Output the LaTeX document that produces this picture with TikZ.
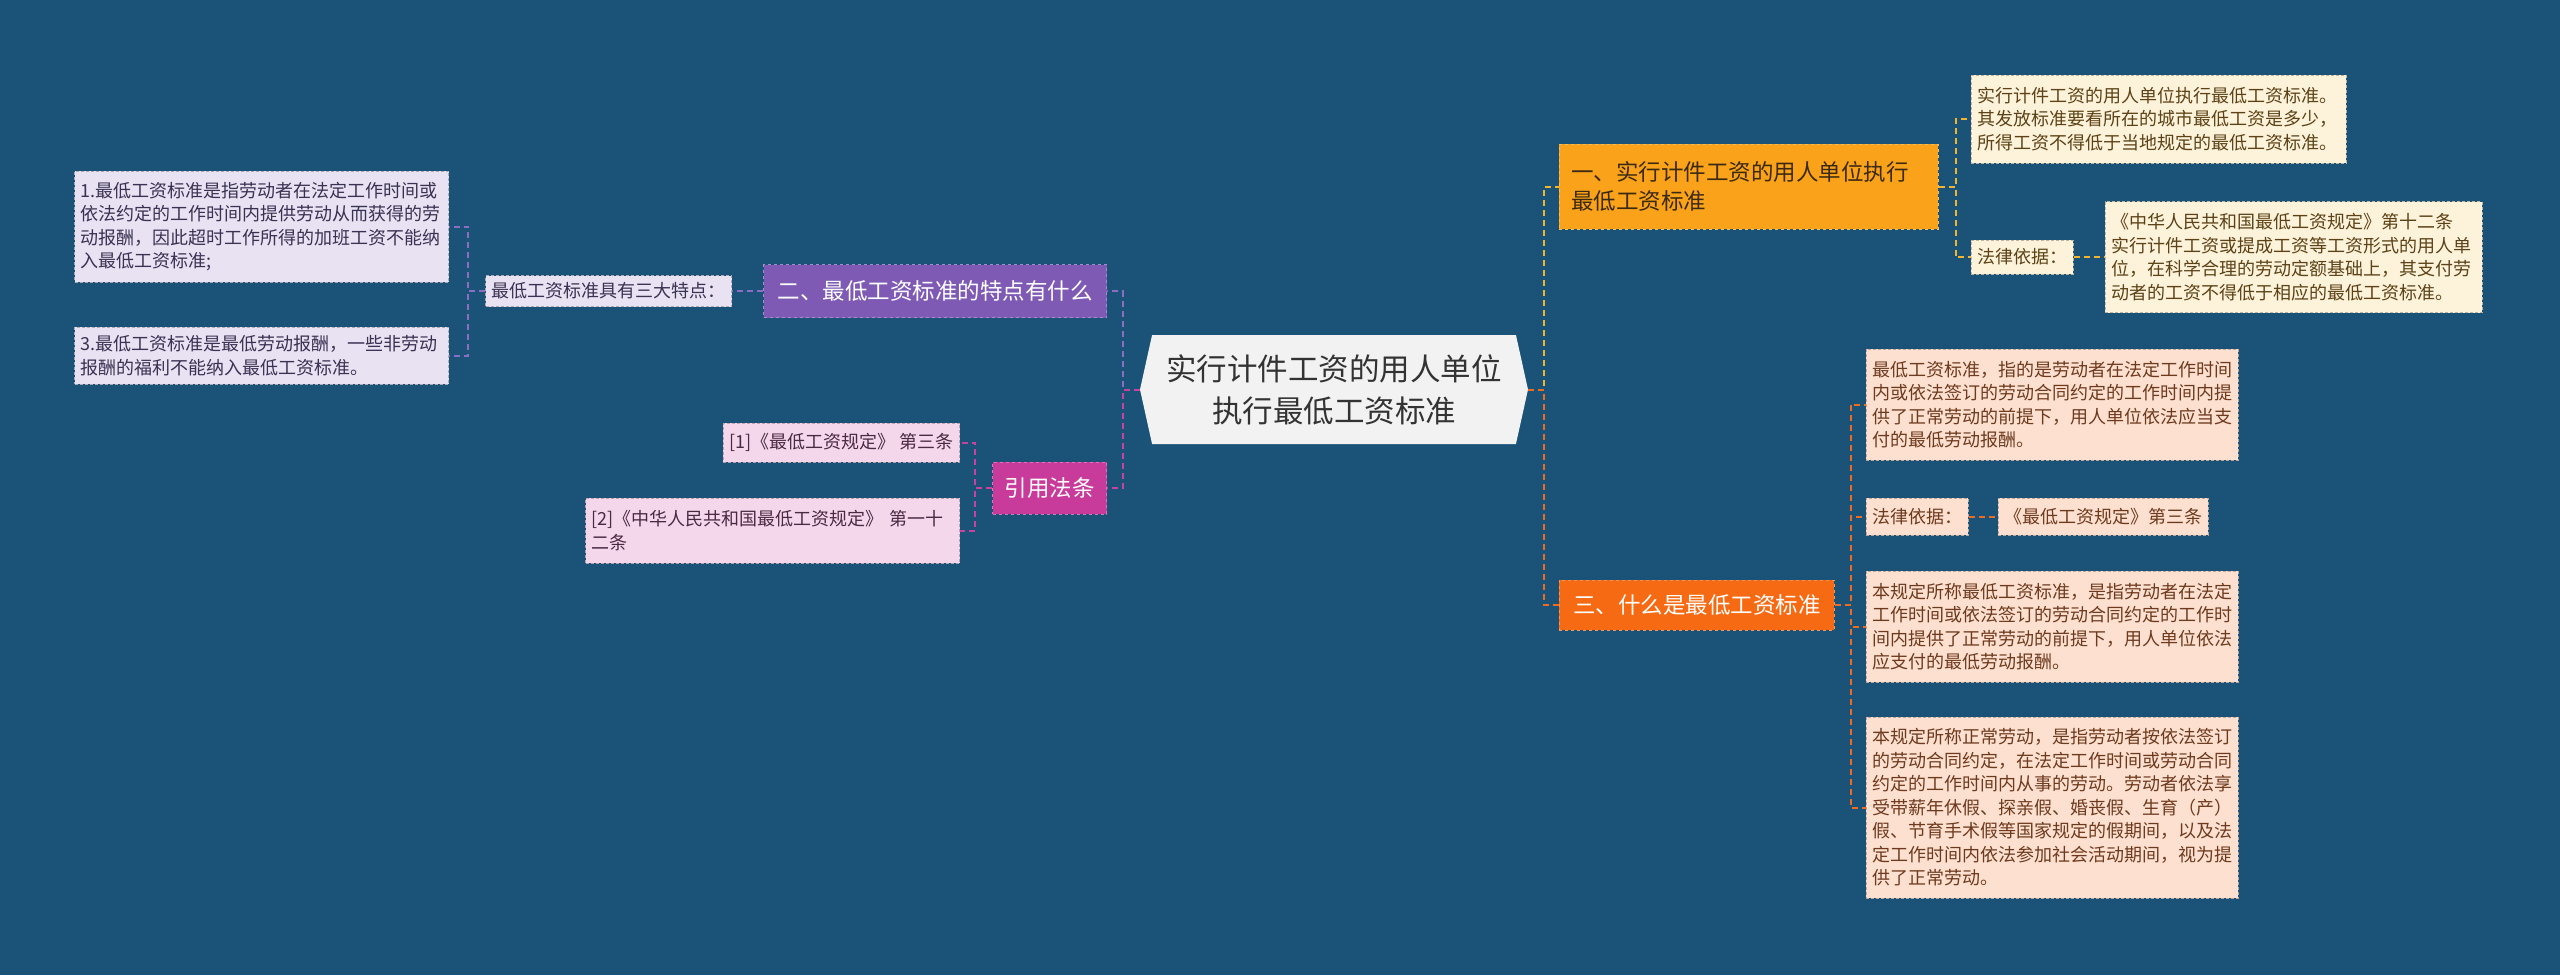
\documentclass[tikz,border=0pt]{standalone}
\usepackage{fontspec}
\setmainfont{Noto Sans CJK SC}
\usepackage{xcolor}
\usetikzlibrary{positioning, shapes.symbols}
\definecolor{MBack}{HTML}{1B5378}
\definecolor{MRoot}{HTML}{F2F2F2}
\definecolor{MInk}{HTML}{333333}
\definecolor{MAmber}{HTML}{FAA21A}
\definecolor{MAmberLine}{HTML}{F2B531}
\definecolor{MAmberInk}{HTML}{3B2A12}
\definecolor{MOrange}{HTML}{F56A12}
\definecolor{MOrangeLine}{HTML}{EE6B22}
\definecolor{MPurple}{HTML}{7E5AB4}
\definecolor{MPurpleLine}{HTML}{8C6DC4}
\definecolor{MPink}{HTML}{C93B9B}
\definecolor{MPinkLine}{HTML}{C8429F}
\definecolor{MCream}{HTML}{FDF2DA}
\definecolor{MCreamInk}{HTML}{5C4216}
\definecolor{MPeach}{HTML}{FDE0D0}
\definecolor{MPeachInk}{HTML}{6E3A1E}
\definecolor{MLavender}{HTML}{E8E2F2}
\definecolor{MLavenderInk}{HTML}{3A3252}
\definecolor{MRose}{HTML}{F5D7EC}
\definecolor{MRoseInk}{HTML}{4A2A42}

\begin{document}
\begin{tikzpicture}[
  x=1pt, y=-1pt,
  font=\fontsize{18}{23.5}\selectfont,
  root/.style={signal, signal to=west and east, signal pointer angle=155,
               fill=MRoot, text=MInk, align=center, inner sep=0pt,
               font=\fontsize{30.5}{42}\selectfont,
               minimum width=388pt, minimum height=109pt},
  topic/.style={rectangle, dashed, line width=0.9pt, align=left,
                inner xsep=12pt, inner ysep=4pt,
                font=\fontsize{22.5}{29}\selectfont},
  kid/.style={rectangle, densely dashed, line width=0.9pt, align=left,
              inner xsep=6pt, inner ysep=4pt},
  amberkid/.style={kid, fill=MCream, draw=MCream!75!black, text=MCreamInk},
  orangekid/.style={kid, fill=MPeach, draw=MPeach!75!black, text=MPeachInk},
  purplekid/.style={kid, fill=MLavender, draw=MLavender!75!black, text=MLavenderInk},
  pinkkid/.style={kid, fill=MRose, draw=MRose!75!black, text=MRoseInk},
  link/.style={draw=#1, line width=2pt, dash pattern=on 6pt off 4pt},
]

\fill[MBack] (0,0) rectangle (2560,975);
\useasboundingbox (0,0) rectangle (2560,975);

% ── centre ───────────────────────────────────────────────────────────────
\node[root] (root) at (1334,389.5) {实行计件工资的用人单位\\执行最低工资标准};

% ── right: 一 ────────────────────────────────────────────────────────────
\node[topic, fill=MAmber, draw=MAmber!70!white, text=MAmberInk, anchor=west,
      text width=355pt, minimum height=85pt] (one) at (1559,186.5)
  {一、实行计件工资的用人单位执行\\最低工资标准};
\node[amberkid, anchor=west, text width=363pt, minimum height=88pt] (onenote) at (1971,119)
  {实行计件工资的用人单位执行最低工资标准。\\其发放标准要看所在的城市最低工资是多少，\\所得工资不得低于当地规定的最低工资标准。};
\node[amberkid, anchor=west, minimum height=34pt] (onelaw) at (1971,257) {法律依据：};
\node[amberkid, right=31pt of onelaw, text width=365pt, minimum height=111pt] (onebasis)
  {《中华人民共和国最低工资规定》第十二条\\实行计件工资或提成工资等工资形式的用人单\\位，在科学合理的劳动定额基础上，其支付劳\\动者的工资不得低于相应的最低工资标准。};

% ── right: 三 ────────────────────────────────────────────────────────────
\node[topic, fill=MOrange, draw=MOrange!70!white, text=white, anchor=west,
      minimum width=275pt, minimum height=50pt] (three) at (1559,605)
  {三、什么是最低工资标准};
\node[orangekid, anchor=west, text width=360pt, minimum height=111pt] (threenote) at (1866,404.5)
  {最低工资标准，指的是劳动者在法定工作时间\\内或依法签订的劳动合同约定的工作时间内提\\供了正常劳动的前提下，用人单位依法应当支\\付的最低劳动报酬。};
\node[orangekid, anchor=west, minimum height=37pt] (threelaw) at (1866,516.5) {法律依据：};
\node[orangekid, right=29pt of threelaw, minimum height=37pt] (threebasis) {《最低工资规定》第三条};
\node[orangekid, anchor=west, text width=360pt, minimum height=111pt] (threedef) at (1866,626.5)
  {本规定所称最低工资标准，是指劳动者在法定\\工作时间或依法签订的劳动合同约定的工作时\\间内提供了正常劳动的前提下，用人单位依法\\应支付的最低劳动报酬。};
\node[orangekid, anchor=west, text width=360pt, minimum height=181pt] (threework) at (1866,807.5)
  {本规定所称正常劳动，是指劳动者按依法签订\\的劳动合同约定，在法定工作时间或劳动合同\\约定的工作时间内从事的劳动。劳动者依法享\\受带薪年休假、探亲假、婚丧假、生育（产）\\假、节育手术假等国家规定的假期间，以及法\\定工作时间内依法参加社会活动期间，视为提\\供了正常劳动。};

% ── left: 二 ─────────────────────────────────────────────────────────────
\node[topic, fill=MPurple, draw=MPurple!70!white, text=white, anchor=east,
      minimum width=343pt, minimum height=53pt] (two) at (1107,291)
  {二、最低工资标准的特点有什么};
\node[purplekid, left=31pt of two, minimum height=31pt] (twotrait) {最低工资标准具有三大特点：};
\node[purplekid, anchor=east, text width=362pt, minimum height=111pt] (twofirst) at (449,226.5)
  {1.最低工资标准是指劳动者在法定工作时间或\\依法约定的工作时间内提供劳动从而获得的劳\\动报酬，因此超时工作所得的加班工资不能纳\\入最低工资标准;};
\node[purplekid, anchor=east, text width=362pt, minimum height=57pt] (twothird) at (449,355.5)
  {3.最低工资标准是最低劳动报酬，一些非劳动\\报酬的福利不能纳入最低工资标准。};

% ── left: 引用法条 ───────────────────────────────────────────────────────
\node[topic, fill=MPink, draw=MPink!70!white, text=white, anchor=east,
      minimum width=114pt, minimum height=52pt] (cite) at (1107,488) {引用法条};
\node[pinkkid, anchor=east, minimum height=39pt] (citeone) at (960,442.5)
  {[1]《最低工资规定》 第三条};
\node[pinkkid, anchor=east, text width=362pt, minimum height=65pt] (citetwo) at (960,530.5)
  {[2]《中华人民共和国最低工资规定》 第一十\\二条};

% ── connectors ───────────────────────────────────────────────────────────
\draw[link=MAmberLine]  (root.east) -- ++(16,0) |- (one.west);
\draw[link=MOrangeLine] (root.east) -- ++(16,0) |- (three.west);
\draw[link=MPurpleLine] (root.west) -- ++(-17,0) |- (two.east);
\draw[link=MPinkLine]   (root.west) -- ++(-17,0) |- (cite.east);

\draw[link=MAmberLine] (one.east) -- ++(17,0) |- (onenote.west);
\draw[link=MAmberLine] (one.east) -- ++(17,0) |- (onelaw.west);
\draw[link=MAmberLine] (onelaw) -- (onebasis);

\draw[link=MOrangeLine] (three.east) -- ++(16,0) |- (threenote.west);
\draw[link=MOrangeLine] (three.east) -- ++(16,0) |- (threelaw.west);
\draw[link=MOrangeLine] (three.east) -- ++(16,0) |- (threedef.west);
\draw[link=MOrangeLine] (three.east) -- ++(16,0) |- (threework.west);
\draw[link=MOrangeLine] (threelaw) -- (threebasis);

\draw[link=MPurpleLine] (two) -- (twotrait);
\draw[link=MPurpleLine] (twotrait.west) -- ++(-17,0) |- (twofirst.east);
\draw[link=MPurpleLine] (twotrait.west) -- ++(-17,0) |- (twothird.east);

\draw[link=MPinkLine] (cite.west) -- ++(-17,0) |- (citeone.east);
\draw[link=MPinkLine] (cite.west) -- ++(-17,0) |- (citetwo.east);

\end{tikzpicture}
\end{document}
